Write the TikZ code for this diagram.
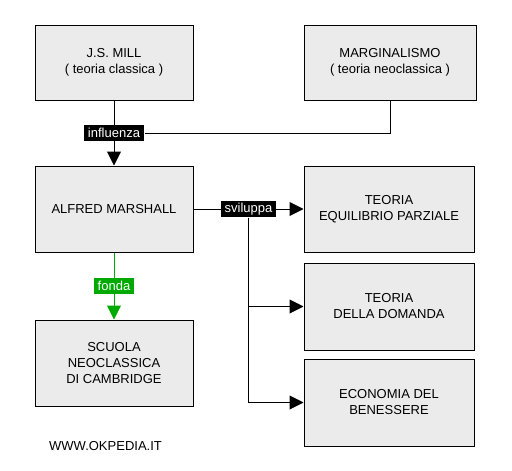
\documentclass[tikz,border=0pt]{standalone}
\usepackage{fontspec}
\setmainfont{Liberation Sans}
\usetikzlibrary{arrows.meta}
\definecolor{boxgray}{RGB}{235,235,235}
\definecolor{okgreen}{RGB}{0,170,0}
\begin{document}
\begin{tikzpicture}[x=1pt, y=-1pt,
    font=\fontsize{13}{16}\selectfont,
    box/.style={draw, fill=boxgray, line width=1pt, align=center, inner sep=0pt},
    tag/.style={fill=black, text=white, inner xsep=4pt, inner ysep=0pt, minimum height=16pt},
    link/.style={line width=1pt, -{Triangle[width=14pt,length=14pt]}}]
    \useasboundingbox (0,0) rectangle (512,471);

    % Draw nodes
    \node[box, minimum width=158pt, minimum height=75pt] (1) at (114, 62.5) {J.S. MILL\\( teoria classica )};
    \node[box, minimum width=172pt, minimum height=75pt] (2) at (390, 62.5) {MARGINALISMO\\( teoria neoclassica )};
    \node[box, minimum width=158pt, minimum height=86pt] (3) at (114, 209) {ALFRED MARSHALL};
    \node[box, minimum width=170pt, minimum height=86pt] (4) at (389, 209) {TEORIA\\EQUILIBRIO PARZIALE};
    \node[box, minimum width=170pt, minimum height=87pt] (5) at (389, 306.5) {TEORIA\\DELLA DOMANDA};
    \node[box, minimum width=170pt, minimum height=87pt] (6) at (389, 402.5) {ECONOMIA DEL\\BENESSERE};
    \node[box, minimum width=158pt, minimum height=86pt] (7) at (114, 363) {SCUOLA\\NEOCLASSICA\\DI CAMBRIDGE};
    \node (www) at (105.5, 446) {WWW.OKPEDIA.IT};

    % Draw directed edges
    \draw[link] (1) -- node[tag] (infl) {influenza} (3);
    \draw[line width=1pt] (2.south) |- (infl.east);
    \draw[link] (3) -- node[tag] (svil) {sviluppa} (4);
    \draw[link] (svil.south) |- (5.west);
    \draw[link] (svil.south) |- (6.west);
    \draw[link, okgreen] (3) -- node[tag, fill=okgreen] (fonda) {fonda} (7);
\end{tikzpicture}
\end{document}
